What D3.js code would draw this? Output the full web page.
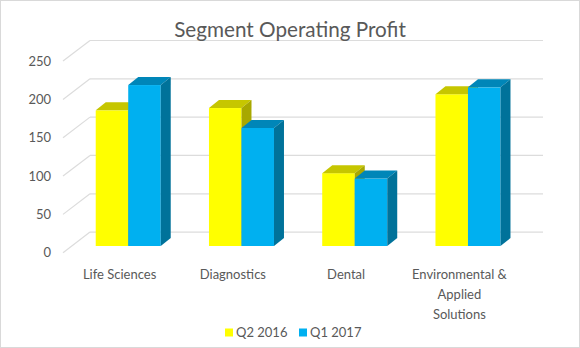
<!DOCTYPE html>
<html>
<head>
<meta charset="utf-8">
<script src="https://cdn.jsdelivr.net/npm/d3@7"></script>
<style>
  body { margin: 0; background: #fff; }
  text { font-family: Lato, "Open Sans", sans-serif; fill: #595959; }
</style>
</head>
<body>
<svg id="chart" width="580" height="348"></svg>
<script>
var categories = ['Life Sciences', 'Diagnostics', 'Dental', 'Environmental & Applied Solutions'];
var categoryLines = [['Life Sciences'], ['Diagnostics'], ['Dental'], ['Environmental &', 'Applied', 'Solutions']];
var series = ['Q2 2016', 'Q1 2017'];
var q2_2016 = [177, 180, 95, 198];
var q1_2017 = [210, 154, 88, 207];
var yTicks = [0, 50, 100, 150, 200, 250];

var values = [q2_2016, q1_2017];
var colors = [
  { front: '#ffff00', top: '#c6c600', side: '#a8a800' },
  { front: '#00b0f0', top: '#0086b8', side: '#00729a' }
];

var svg = d3.select('#chart');

// outer border
svg.append('rect')
  .attr('x', 0.5).attr('y', 0.5)
  .attr('width', 579).attr('height', 347)
  .attr('fill', '#fff')
  .attr('stroke', '#d9d9d9');

// 3d offsets: full depth of the box, and the bar slab inside it
var depth = { dx: 27, dy: -20.6 };
var barOff = { dx: 8.6, dy: -6.7 };
var barDepth = { dx: 10, dy: -8 };

var y = d3.scaleLinear().domain([0, 250]).range([252.7, 61.1]);

var x = d3.scaleBand()
  .domain(categories)
  .range([63, 516])
  .paddingInner(0.426)
  .paddingOuter(0.213);

var xs = d3.scaleBand()
  .domain(series)
  .range([0, x.bandwidth()]);

// gridlines: side wall diagonal + back wall
var grid = svg.append('g').attr('stroke', '#dcdcdc').attr('stroke-width', 1.2).attr('fill', 'none');
yTicks.forEach(function(t) {
  grid.append('line')
    .attr('x1', 63).attr('y1', y(t))
    .attr('x2', 63 + depth.dx).attr('y2', y(t) + depth.dy);
  grid.append('line')
    .attr('x1', 63 + depth.dx).attr('y1', y(t) + depth.dy)
    .attr('x2', 516 + depth.dx).attr('y2', y(t) + depth.dy);
});

// y labels
svg.append('g').selectAll('text')
  .data(yTicks)
  .enter().append('text')
    .attr('x', 51)
    .attr('y', function(d) { return y(d); })
    .attr('dy', '0.35em')
    .attr('text-anchor', 'end')
    .style('font-size', '13px')
    .text(function(d) { return d; });

// bars
var bars = svg.append('g');
series.forEach(function(s, si) {
  categories.forEach(function(c, ci) {
    var v = values[si][ci];
    var x0 = x(c) + xs(s) + barOff.dx;
    var x1 = x0 + xs.bandwidth();
    var yb = y(0) + barOff.dy;
    var yt = y(v) + barOff.dy;
    var dx = barDepth.dx, dy = barDepth.dy;
    bars.append('rect')
      .attr('x', x0).attr('y', yt)
      .attr('width', x1 - x0).attr('height', yb - yt)
      .attr('fill', colors[si].front);
    bars.append('path')
      .attr('d', 'M' + x0 + ',' + yt + 'L' + (x0 + dx) + ',' + (yt + dy) +
                 'L' + (x1 + dx) + ',' + (yt + dy) + 'L' + x1 + ',' + yt + 'Z')
      .attr('fill', colors[si].top);
    bars.append('path')
      .attr('d', 'M' + x1 + ',' + yt + 'L' + (x1 + dx) + ',' + (yt + dy) +
                 'L' + (x1 + dx) + ',' + (yb + dy) + 'L' + x1 + ',' + yb + 'Z')
      .attr('fill', colors[si].side);
  });
});

// category labels
var cat = svg.append('g').selectAll('text')
  .data(categories)
  .enter().append('text')
    .attr('x', function(d) { return x(d) + x.bandwidth() / 2; })
    .attr('y', 274.5)
    .attr('text-anchor', 'middle')
    .style('font-size', '13px');
cat.selectAll('tspan')
  .data(function(d, i) { return categoryLines[i]; })
  .enter().append('tspan')
    .attr('x', function() { return d3.select(this.parentNode).attr('x'); })
    .attr('dy', function(d, i) { return i === 0 ? '0.35em' : '20.2px'; })
    .text(function(d) { return d; });

// title
svg.append('text')
  .attr('x', 290)
  .attr('y', 29.5)
  .attr('dy', '0.35em')
  .attr('text-anchor', 'middle')
  .style('font-size', '20.7px')
  .text('Segment Operating Profit');

// legend
var legend = svg.append('g');
var legendX = [225, 299];
series.forEach(function(s, si) {
  legend.append('rect')
    .attr('x', legendX[si]).attr('y', 328.5)
    .attr('width', 8).attr('height', 8)
    .attr('fill', colors[si].front);
  legend.append('text')
    .attr('x', legendX[si] + 11).attr('y', 332.5)
    .attr('dy', '0.35em')
    .style('font-size', '13px')
    .text(s);
});
</script>
</body>
</html>
